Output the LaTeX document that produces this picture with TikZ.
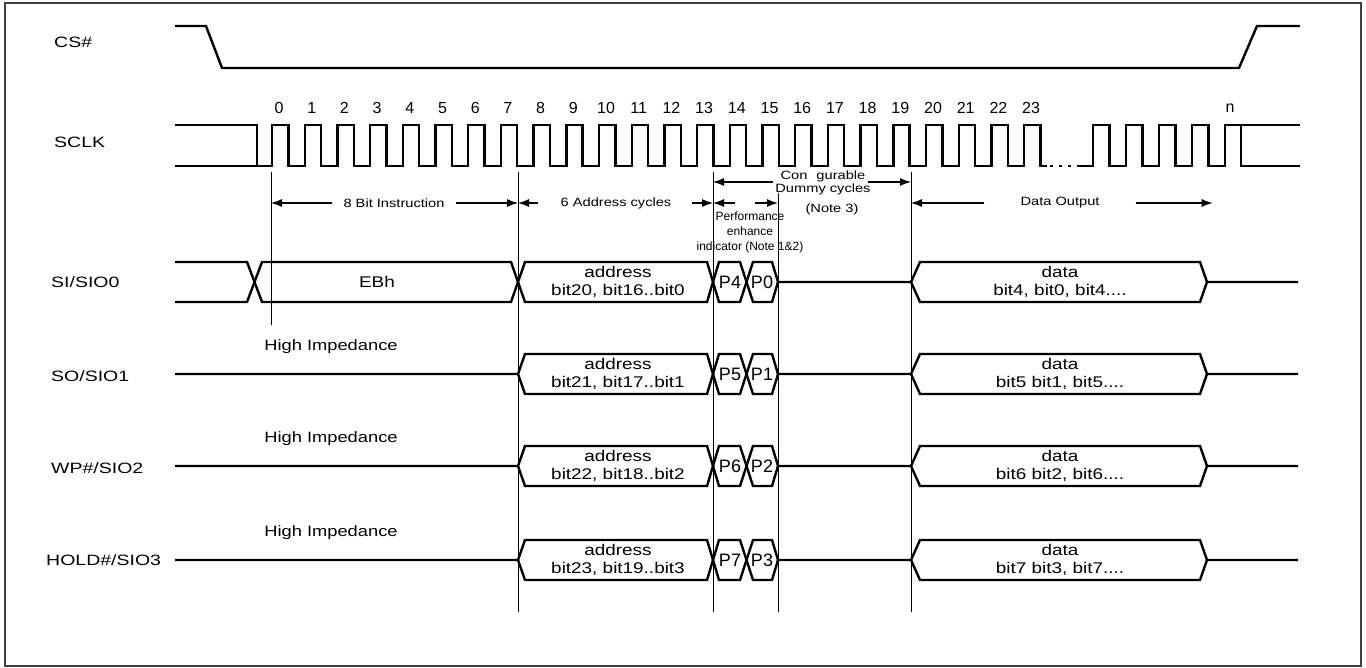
\documentclass[tikz,border=0pt]{standalone}
\usepackage{fontspec}
\setmainfont{Liberation Sans}
\newfontfamily\sigfont{Liberation Sans}[FakeStretch=1.3]
\newfontfamily\widefont{Liberation Sans}[FakeStretch=1.22]
\usetikzlibrary{arrows.meta,positioning,calc}

\begin{document}
\begin{tikzpicture}[x=1pt,y=-1pt,
  sig/.style={line width=2.4pt, line join=miter},
  guide/.style={line width=0.9pt},
  dim/.style={line width=1.1pt, -{Latex[length=11pt,width=8pt]}},
  lbl/.style={anchor=west, inner sep=0pt, font=\sigfont\fontsize{15}{18}\selectfont},
  num/.style={inner sep=0pt, font=\fontsize{16}{19}\selectfont},
  note/.style={inner sep=0pt, font=\widefont\fontsize{12}{14}\selectfont},
  hiz/.style={inner sep=0pt, font=\widefont\fontsize{15}{18}\selectfont},
  bustxt/.style={inner sep=0pt, align=center, font=\widefont\fontsize{15.5}{18.5}\selectfont},
  ptxt/.style={inner sep=0pt, font=\fontsize{18}{20}\selectfont},
  perf/.style={inner sep=0pt, align=center, font=\fontsize{12}{15}\selectfont}]

\useasboundingbox (0,0) rectangle (1366,667);
\draw[line width=1.4pt, black!75] (5,3) rectangle (1361,666);

% signal names
\node[lbl] (cs) at (54,42) {CS\#};
\node[lbl] (sclk) at (54,142) {SCLK};
\node[lbl] (sio0) at (51,282) {SI/SIO0};
\node[lbl] (sio1) at (51,376) {SO/SIO1};
\node[lbl] (sio2) at (51,468) {WP\#/SIO2};
\node[lbl] (sio3) at (46,560) {HOLD\#/SIO3};

% CS#
\draw[sig] (175,26) -- (206,26) -- (222,68) -- (1239,68) -- (1257,26) -- (1300,26);

% SCLK
\draw[sig] (175,166) -- (257,166);
\draw[sig] (175,125) -- (257,125) -- (257,166)
  \foreach \k in {0,...,23} { -- ({272+32.7*\k},166) -- ({272+32.7*\k},125)
    -- ({288.3+32.7*\k},125) -- ({288.3+32.7*\k},166) } -- (1047,166);
\draw[sig, dash pattern=on 3pt off 6pt] (1050,166) -- (1077,166);
\draw[sig] (1077,166)
  \foreach \k in {0,...,3} { -- ({1093+33*\k},166) -- ({1093+33*\k},125)
    -- ({1109.5+33*\k},125) -- ({1109.5+33*\k},166) } -- (1225,166) -- (1225,125) -- (1300,125);
\draw[sig] (1241,125) -- (1241,166) -- (1300,166);
\foreach \k in {0,...,23}
  \node[num] (n\k) at ({279+32.7*\k},108) {\k};
\node[num] (nn) at (1230,108) {n};

% guide lines
\coordinate (g0) at (271,172);
\coordinate (g7) at (518,172);
\coordinate (g13) at (713,172);
\coordinate (g15) at (778,193);
\coordinate (g19) at (911,172);
\draw[guide] (g0) -- (271,325);
\draw[guide] (g7) -- (518,612);
\draw[guide] (g13) -- (713,612);
\draw[guide] (g15) -- (778,612);
\draw[guide] (g19) -- (911,612);

% cycle counts
\node[note] (ins) at (394,203) {8 Bit Instruction};
\draw[dim] ([xshift=-11pt]ins.west) -- (ins.west -| g0);
\draw[dim] ([xshift=11pt]ins.east) -- (ins.east -| g7);
\node[note] (adr) at (616,203) {6 Address cycles};
\draw[dim] ([xshift=-22pt]adr.west) -- (adr.west -| g7);
\draw[dim] ([xshift=20pt]adr.east) -- (adr.east -| g13);
\coordinate (pl) at (735,203);
\coordinate (pr) at (755,203);
\draw[dim] (pl) -- (pl -| g13);
\draw[dim] (pr) -- (pr -| g15);
\node[perf] (penh) at (750,232) {Performance\\enhance\\indicator (Note 1\&2)};
\node[note, align=center] (dmy) at (823,183) {Con\hspace{9pt}gurable\\[-1pt]Dummy cycles};
\node[note] (nt3) at (832,209) {(Note 3)};
\coordinate (dl) at (773,182);
\coordinate (dr) at (868,182);
\draw[dim] (dl) -- (dl -| g13);
\draw[dim] (dr) -- (dr -| g19);
\node[note] (dout) at (1060,203) {Data Output};
\draw[dim] ([xshift=-36pt]dout.west) -- (dout.west -| g19);
\draw[dim] ([xshift=36pt]dout.east) -- ++(77pt,0);

% SI/SIO0
\draw[sig] (175,262) -- (247,262) -- (262,302) -- (511,302) -- (525,262) -- (707,262)
  -- (719,302) -- (740,302) -- (753,262) -- (772,262) -- (778,282) -- (911,282)
  -- (920,262) -- (1200,262) -- (1207,282) -- (1298,282);
\draw[sig] (175,302) -- (247,302) -- (262,262) -- (511,262) -- (525,302) -- (707,302)
  -- (719,262) -- (740,262) -- (753,302) -- (772,302) -- (778,282);
\draw[sig] (911,282) -- (920,302) -- (1200,302) -- (1207,282);
\node[bustxt] (ebh) at (377,282) {EBh};

% SO/SIO1 .. HOLD#/SIO3
\foreach \c in {374,466,560} {
  \draw[sig] (175,\c) -- (518,\c) -- (525,\c-20) -- (707,\c-20) -- (719,\c+20) -- (740,\c+20)
    -- (753,\c-20) -- (772,\c-20) -- (778,\c) -- (911,\c) -- (920,\c-20) -- (1200,\c-20)
    -- (1207,\c) -- (1298,\c);
  \draw[sig] (518,\c) -- (525,\c+20) -- (707,\c+20) -- (719,\c-20) -- (740,\c-20)
    -- (753,\c+20) -- (772,\c+20) -- (778,\c);
  \draw[sig] (911,\c) -- (920,\c+20) -- (1200,\c+20) -- (1207,\c);
  \node[hiz] (hz\c) at (331,\c-27) {High Impedance};
}

% bus contents
\foreach \c/\adr/\pa/\pb/\dat in {
  282/{bit20, bit16..bit0}/P4/P0/{bit4, bit0, bit4....},
  374/{bit21, bit17..bit1}/P5/P1/{bit5 bit1, bit5....},
  466/{bit22, bit18..bit2}/P6/P2/{bit6 bit2, bit6....},
  560/{bit23, bit19..bit3}/P7/P3/{bit7 bit3, bit7....}} {
  \node[bustxt] (a\c) at (618,\c) {address\\\adr};
  \node[ptxt] (pa\c) at (730,\c) {\pa};
  \node[ptxt] (pb\c) at (762,\c) {\pb};
  \node[bustxt] (d\c) at (1060,\c) {data\\\dat};
}
\end{tikzpicture}
\end{document}
